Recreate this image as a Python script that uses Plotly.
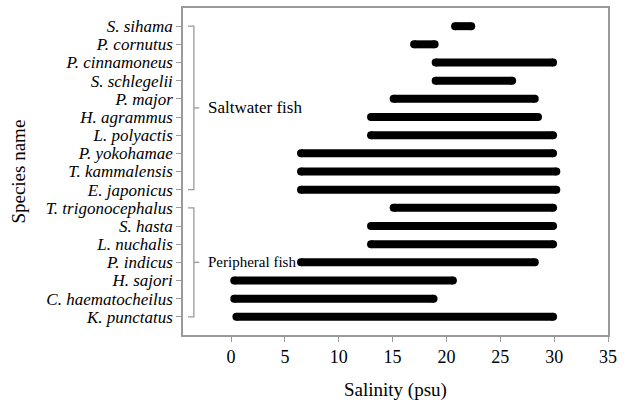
import plotly.graph_objects as go

species = ["S. sihama", "P. cornutus", "P. cinnamoneus", "S. schlegelii", "P. major",
           "H. agrammus", "L. polyactis", "P. yokohamae", "T. kammalensis", "E. japonicus",
           "T. trigonocephalus", "S. hasta", "L. nuchalis", "P. indicus", "H. sajori",
           "C. haematocheilus", "K. punctatus"]
sal_min = [20.8, 17.0, 19.0, 19.0, 15.1, 13.0, 13.0, 6.5, 6.5, 6.5,
           15.1, 13.0, 13.0, 6.5, 0.3, 0.3, 0.5]
sal_max = [22.3, 18.9, 29.9, 26.1, 28.2, 28.5, 29.9, 29.9, 30.2, 30.2,
           29.9, 29.9, 29.9, 28.2, 20.6, 18.8, 29.9]
x_ticks = [0, 5, 10, 15, 20, 25, 30, 35]
groups = [("Saltwater fish", 0, 9, 17), ("Peripheral fish", 10, 16, 15)]

SERIF = "Liberation Serif"

n = len(species)
ypos = [n - 1 - i for i in range(n)]

fig = go.Figure()
for i in range(n):
    fig.add_trace(go.Scatter(
        x=[sal_min[i], sal_max[i]], y=[ypos[i], ypos[i]],
        mode="lines+markers",
        line=dict(color="black", width=8),
        marker=dict(color="black", size=8, line=dict(width=0)),
        showlegend=False, hoverinfo="skip"))

gray = "#9a9a9a"
bx0, bx1, bx2 = -4.0, -3.45, -2.95
for name, i0, i1, fs in groups:
    ytop, ybot = ypos[i0], ypos[i1]
    ymid = (ytop + ybot) / 2
    fig.add_shape(type="path",
                  path=f"M {bx0} {ytop} L {bx1} {ytop} L {bx1} {ybot} L {bx0} {ybot}",
                  line=dict(color=gray, width=1.3), xref="x", yref="y")
    fig.add_shape(type="line", x0=bx1, x1=bx2, y0=ymid, y1=ymid,
                  line=dict(color=gray, width=1.3), xref="x", yref="y")
    fig.add_annotation(x=-2.3, y=ymid, text=name, showarrow=False,
                       xanchor="left", yanchor="middle", xref="x", yref="y",
                       font=dict(family=SERIF, size=fs, color="black"))

fig.add_annotation(x=0.5, y=-0.167, xref="paper", yref="paper", text="Salinity (psu)",
                   showarrow=False, xanchor="center", yanchor="middle",
                   font=dict(family=SERIF, size=19, color="black"))
fig.add_annotation(x=-0.388, y=0.5, xref="paper", yref="paper", text="Species name",
                   showarrow=False, xanchor="center", yanchor="middle", textangle=-90,
                   font=dict(family=SERIF, size=19, color="black"))

fig.update_xaxes(range=[-4.46, 35], tickvals=x_ticks, ticktext=[str(t) for t in x_ticks],
                 ticks="outside", ticklen=5, tickcolor=gray, tickwidth=1.3,
                 showgrid=False, zeroline=False, showline=True, linecolor=gray,
                 linewidth=1.5, mirror=True,
                 tickfont=dict(family=SERIF, size=18, color="black"))
fig.update_yaxes(range=[-1, 17], tickvals=ypos, ticktext=[f"<i>{s}</i>" for s in species],
                 ticks="outside", ticklen=5, tickcolor=gray, tickwidth=1.3,
                 showgrid=False, zeroline=False, showline=True, linecolor=gray,
                 linewidth=1.5, mirror=True,
                 tickfont=dict(family=SERIF, size=17, color="black"))
fig.update_layout(width=629, height=403, margin=dict(l=183, r=21, t=6, b=68),
                  plot_bgcolor="white", paper_bgcolor="white",
                  font=dict(family=SERIF))
fig.write_html("out.html")
